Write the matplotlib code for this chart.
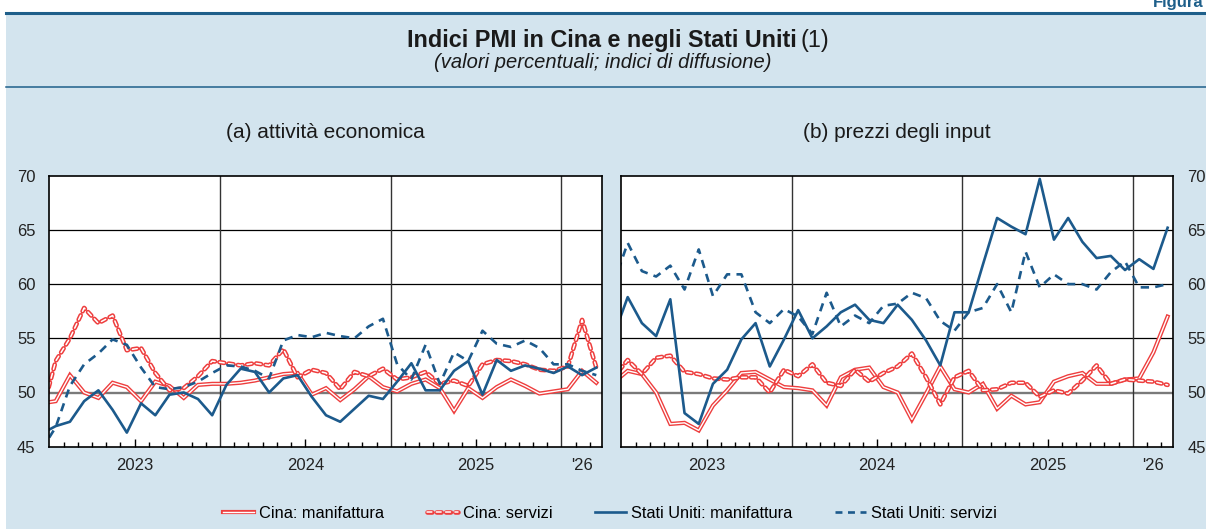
import matplotlib
matplotlib.use("Agg")
import matplotlib.pyplot as plt
import numpy as np
from matplotlib.lines import Line2D
from matplotlib.patches import Rectangle
from matplotlib.legend_handler import HandlerTuple

plt.rcParams['font.family'] = ['Liberation Sans', 'DejaVu Sans']
plt.rcParams['lines.scale_dashes'] = False

# monthly data, Dec 2022 .. Mar 2026 (40 values)
# (a) attivita economica
cn_man_a = [49.0,
            49.2, 51.6, 50.0, 49.5, 50.9, 50.5, 49.2, 51.0, 50.6, 49.5, 50.7, 50.8,
            50.8, 50.9, 51.1, 51.4, 51.7, 51.8, 49.8, 50.4, 49.3, 50.3, 51.5, 50.5,
            50.1, 50.8, 51.2, 50.4, 48.3, 50.4, 49.5, 50.5, 51.2, 50.6, 49.9, 50.1,
            50.3, 52.0, 50.9]
cn_srv_a = [48.0,
            52.9, 55.0, 57.8, 56.4, 57.1, 53.9, 54.1, 51.8, 50.2, 50.4, 51.5, 52.9,
            52.7, 52.5, 52.7, 52.5, 54.0, 51.4, 52.1, 51.8, 50.3, 51.9, 51.5, 52.2,
            51.2, 51.4, 51.9, 50.8, 51.1, 50.6, 52.6, 53.0, 52.9, 52.6, 52.1, 52.0,
            52.4, 56.7, 52.3]
us_man_a = [46.2,
            46.9, 47.3, 49.2, 50.2, 48.4, 46.3, 49.0, 47.9, 49.8, 50.0, 49.4, 47.9,
            50.7, 52.2, 51.9, 50.0, 51.3, 51.6, 49.6, 47.9, 47.3, 48.5, 49.7, 49.4,
            51.0, 52.7, 50.2, 50.2, 52.0, 52.9, 49.8, 53.0, 52.0, 52.5, 52.2, 51.8,
            52.4, 51.6, 52.3]
us_srv_a = [44.7,
            46.8, 50.6, 52.6, 53.6, 54.9, 54.4, 52.3, 50.5, 50.3, 50.5, 51.0, 51.8,
            52.5, 52.4, 52.0, 51.3, 54.8, 55.3, 55.1, 55.5, 55.2, 55.0, 56.1, 56.8,
            52.6, 51.2, 54.4, 50.8, 53.7, 52.9, 55.7, 54.5, 54.2, 54.8, 54.1, 52.6,
            52.6, 52.0, 51.6]

# (b) prezzi degli input
cn_man_b = [50.9,
            52.0, 51.7, 50.0, 47.1, 47.2, 46.5, 48.8, 50.2, 51.8, 51.9, 51.2, 50.5,
            50.4, 50.2, 48.8, 51.4, 52.1, 52.3, 50.5, 50.0, 47.5, 49.9, 52.4, 50.3,
            50.0, 50.8, 48.5, 49.7, 48.9, 49.1, 51.0, 51.5, 51.8, 50.8, 50.8, 51.2,
            51.3, 53.7, 57.0]
cn_srv_b = [51.4,
            53.0, 51.7, 53.2, 53.4, 51.9, 51.7, 51.3, 51.2, 51.4, 51.4, 50.0, 52.1,
            51.5, 52.6, 50.9, 50.6, 52.1, 51.0, 51.8, 52.4, 53.6, 51.4, 48.9, 51.4,
            52.0, 50.2, 50.3, 50.9, 50.9, 49.6, 50.2, 49.9, 51.1, 52.5, 50.8, 51.2,
            51.1, 51.0, 50.7]
us_man_b = [55.2,
            58.8, 56.4, 55.2, 58.6, 48.1, 47.1, 50.8, 52.1, 54.9, 56.4, 52.4, 54.9,
            57.6, 55.0, 56.1, 57.4, 58.1, 56.7, 56.4, 58.1, 56.7, 54.8, 52.5, 57.4,
            57.4, 61.8, 66.1, 65.3, 64.6, 69.7, 64.1, 66.1, 63.9, 62.4, 62.6, 61.3,
            62.3, 61.4, 65.2]
us_srv_b = [60.0,
            63.8, 61.2, 60.7, 61.7, 59.5, 63.2, 58.9, 60.9, 60.9, 57.4, 56.4, 57.7,
            57.0, 55.4, 59.2, 56.1, 57.1, 56.4, 58.0, 58.2, 59.2, 58.7, 56.6, 55.7,
            57.4, 57.8, 60.0, 57.4, 63.0, 59.7, 60.9, 60.0, 60.0, 59.5, 61.1, 62.1,
            59.7, 59.7, 60.0]

year_labels = ['2023', '2024', '2025', "'26"]
panel_titles = ['(a) attività economica', '(b) prezzi degli input']

RED = '#ee3e3e'
BLUE = '#1c5a8c'
BG = '#d3e4ee'
DARK = '#1e5f8a'

# month index: 0 = Jan 2023, points plotted mid-month
x = np.arange(-1, 39) + 0.45
XMAX = 38.85

fig = plt.figure(figsize=(12.06, 5.29), dpi=100, facecolor='white')
W, H = 1206, 529

# background panel and rules
fig.patches.append(Rectangle((6 / W, 0), 1, 1 - 13 / H, transform=fig.transFigure,
                             facecolor=BG, edgecolor='none', zorder=-10))
fig.add_artist(Line2D([6 / W, 1], [1 - 13 / H] * 2, color=DARK, lw=2.2))
fig.add_artist(Line2D([6 / W, 1], [1 - 87 / H] * 2, color=DARK, lw=1.1))
fig.text(1203 / W, 1 - 2 / H, 'Figura', ha='right', va='center', fontsize=12,
         fontweight='bold', color=DARK)

fig.text(797 / W, 1 - 40 / H, 'Indici PMI in Cina e negli Stati Uniti', ha='right',
         va='center', fontsize=16.8, fontweight='bold', color='#1a1a1a')
fig.text(801 / W, 1 - 40 / H, '(1)', ha='left', va='center', fontsize=16.8, color='#1a1a1a')
fig.text(603 / W, 1 - 63 / H, '(valori percentuali; indici di diffusione)', ha='center',
         va='center', fontsize=14.5, style='italic', color='#1a1a1a')


def double_line(ax, xs, ys, dashed=False):
    """red line with a white core"""
    if dashed:
        ax.plot(xs, ys, color=RED, lw=3.3, dashes=(3.5, 3.2), dash_capstyle='round', zorder=3)
        ax.plot(xs, ys, color='white', lw=1.1, dashes=(3.5, 3.2), dash_capstyle='round', zorder=3)
    else:
        ax.plot(xs, ys, color=RED, lw=3.0, zorder=3, solid_joinstyle='miter')
        ax.plot(xs, ys, color='white', lw=1.0, zorder=3, solid_joinstyle='miter')


def make_panel(rect, title, cn_man, cn_srv, us_man, us_srv, right=False):
    ax = fig.add_axes(rect)
    ax.set_facecolor('white')
    ax.set_xlim(0, XMAX)
    ax.set_ylim(45, 70)

    for v in [55, 60, 65]:
        ax.axhline(v, color='black', lw=0.9, zorder=1)
    ax.axhline(50, color='#7a7a7a', lw=1.7, zorder=1)
    for v in [12, 24, 36]:
        ax.axvline(v, color='#333333', lw=1.0, zorder=1)

    double_line(ax, x, cn_man)
    double_line(ax, x, cn_srv, dashed=True)
    ax.plot(x, us_man, color=BLUE, lw=1.9, zorder=4)
    ax.plot(x, us_srv, color=BLUE, lw=1.9, dashes=(6, 4.5), zorder=4)

    for s in ax.spines.values():
        s.set_linewidth(1.2)
        s.set_zorder(5)

    ax.set_yticks([45, 50, 55, 60, 65, 70])
    ax.tick_params(axis='y', length=0, labelsize=12, pad=10, labelcolor='#222222',
                   left=not right, labelleft=not right, right=right, labelright=right)

    ax.set_xticks([6, 18, 30, (36 + XMAX) / 2], year_labels)
    ax.set_xticks([m for m in range(1, 39) if m % 12 != 0 and m % 12 != 6], minor=True)
    ax.tick_params(axis='x', which='major', direction='in', length=6, width=1,
                   labelsize=12, pad=8, labelcolor='#222222')
    ax.tick_params(axis='x', which='minor', direction='in', length=3.5, width=1)
    ax.xaxis.get_major_ticks()[3].tick1line.set_visible(False)

    cx = rect[0] + rect[2] / 2
    fig.text(cx, 1 - 133 / H, title, ha='center', va='center', fontsize=15, color='#1a1a1a')
    return ax


bottom = 1 - 446.7 / H
height = 271 / H
make_panel([49.3 / W, bottom, 552.7 / W, height], panel_titles[0],
           cn_man_a, cn_srv_a, us_man_a, us_srv_a)
make_panel([621.3 / W, bottom, 552 / W, height], panel_titles[1],
           cn_man_b, cn_srv_b, us_man_b, us_srv_b, right=True)

# legend
h_cn_man = (Line2D([], [], color=RED, lw=3.0), Line2D([], [], color='white', lw=1.0))
h_cn_srv = (Line2D([], [], color=RED, lw=3.3, dashes=(3.5, 3.2), dash_capstyle='round'),
            Line2D([], [], color='white', lw=1.1, dashes=(3.5, 3.2), dash_capstyle='round'))
h_us_man = Line2D([], [], color=BLUE, lw=1.9)
h_us_srv = Line2D([], [], color=BLUE, lw=1.9, dashes=(5, 4))
fig.legend([h_cn_man, h_cn_srv, h_us_man, h_us_srv],
           ['Cina: manifattura', 'Cina: servizi', 'Stati Uniti: manifattura', 'Stati Uniti: servizi'],
           handler_map={tuple: HandlerTuple(ndivide=1)},
           loc='center', bbox_to_anchor=(610 / W, 1 - 513 / H), ncol=4, frameon=False,
           fontsize=11.8, handlelength=1.9, handletextpad=0.3, columnspacing=2.6)

fig.savefig('out.png', dpi=100, facecolor=fig.get_facecolor())
